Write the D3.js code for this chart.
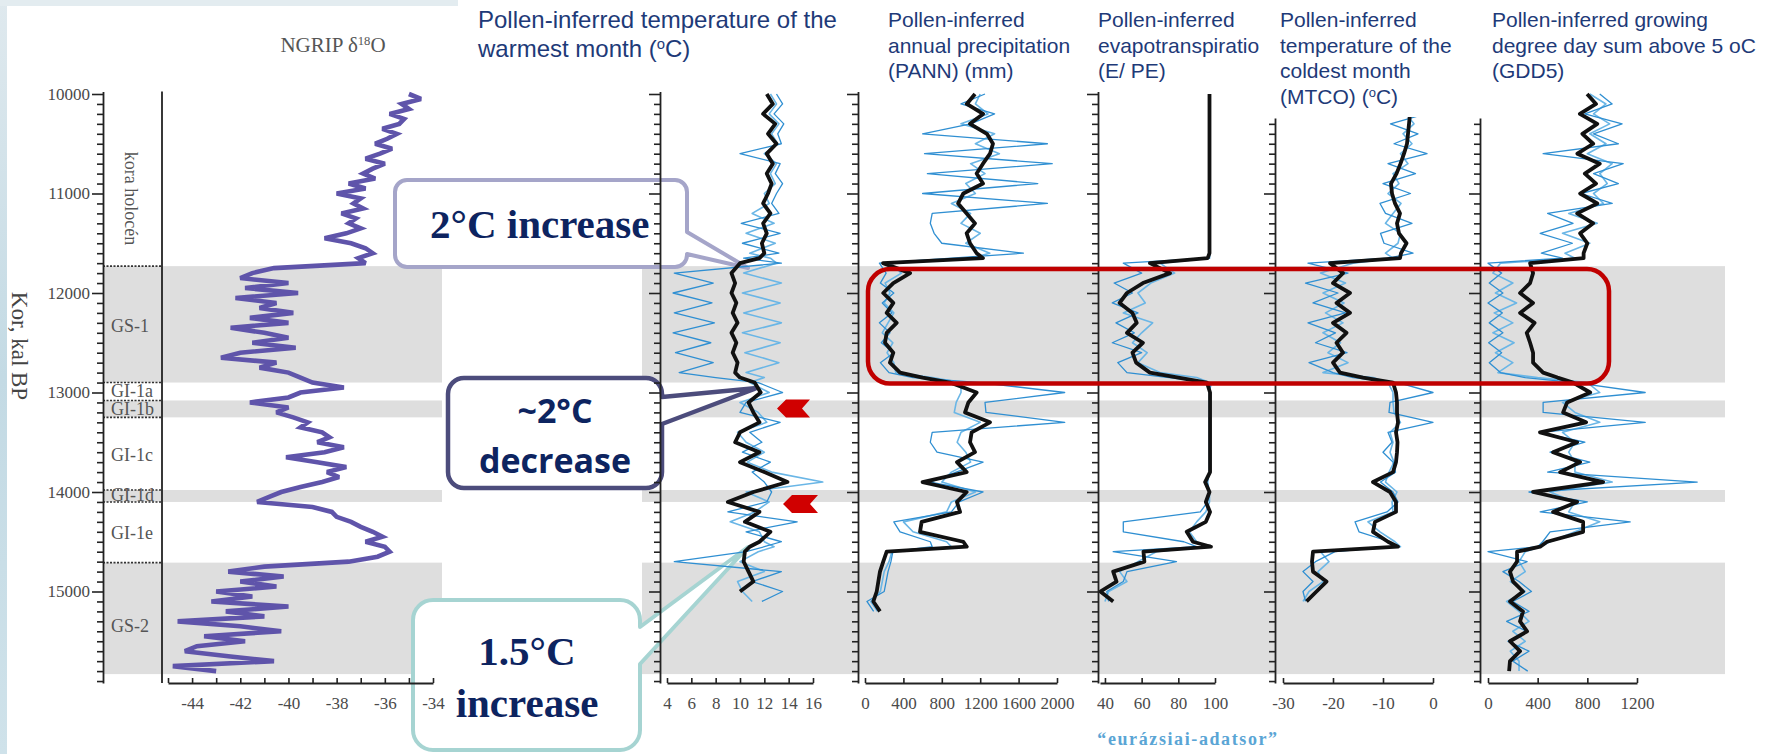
<!DOCTYPE html>
<html><head><meta charset="utf-8">
<script src="https://cdn.jsdelivr.net/npm/d3@7"></script>
<style>body{margin:0;background:#fff;}svg{display:block}</style>
</head><body>
<svg id="c" width="1779" height="754"></svg>
<script>
// ---------------- DATA ----------------
const ngripAge = d3.range(10000, 15801, 50);
const ngripD18O = [
-35.0,-34.5,-35.3,-35.0,-35.8,-35.2,-35.4,-36.1,-35.5,-35.9,
-36.4,-35.7,-36.2,-36.8,-36.0,-36.5,-36.9,-36.4,-37.5,-36.8,
-38.0,-37.0,-37.3,-36.9,-37.8,-37.2,-37.5,-37.0,-37.6,-38.5,
-37.4,-36.8,-36.5,-37.1,-36.8,-40.6,-41.5,-42.0,-40.0,-41.8,
-39.6,-42.2,-40.5,-41.2,-39.8,-41.6,-40.0,-42.4,-41.0,-40.0,
-41.5,-39.7,-42.0,-42.8,-40.5,-41.2,-40.0,-39.5,-39.0,-37.7,
-39.5,-40.0,-41.6,-40.0,-40.5,-39.8,-39.2,-39.5,-38.6,-38.3,
-38.8,-37.7,-38.5,-40.1,-38.8,-37.6,-38.4,-37.9,-38.6,-39.5,
-40.3,-40.8,-41.3,-39.0,-38.2,-38.0,-37.4,-37.0,-36.5,-36.1,
-36.8,-36.0,-35.8,-36.3,-37.5,-41.0,-42.5,-40.2,-42.0,-40.5,
-43.0,-41.5,-43.2,-40.0,-42.6,-41.0,-44.6,-42.0,-40.3,-43.5,
-41.8,-43.8,-44.3,-42.5,-40.6,-44.8,-43.0];

const pollenAge = [10000,10100,10200,10300,10400,10500,10600,10700,10800,10900,
11000,11100,11200,11300,11400,11500,11600,11650,11700,11800,
11900,12000,12100,12200,12300,12400,12500,12600,12700,12800,
12850,12900,13000,13100,13200,13300,13400,13500,13600,13700,
13800,13900,14000,14100,14200,14300,14400,14500,14550,14600,
14700,14800,14900,15000,15100,15200,15300,15400,15500,15600,
15700,15800];

const mtwaBlack = [12.2,12.7,11.9,12.9,12.3,13.0,12.2,12.7,12.2,12.6,
12.3,11.9,12.5,11.9,12.2,11.8,12.0,11.6,10.0,9.3,
9.6,9.3,9.7,9.4,9.8,9.3,9.7,9.4,9.8,9.6,
10.0,11.2,11.7,10.7,11.1,11.6,10.0,9.6,11.6,10.0,
12.0,13.9,11.1,9.0,11.6,10.4,12.5,11.6,10.8,10.4,
10.3,10.7,11.1,10.0,null,null,null,null,null,null,null,null];
const mtwaBlue1 = [13.0,13.5,12.8,13.6,13.1,13.4,10.0,13.3,12.9,13.5,
13.0,12.6,13.2,10.1,13.3,10.2,13.2,10.3,13.4,4.6,
7.8,4.5,7.7,4.6,7.9,4.5,7.6,4.7,7.8,5.0,
8.0,11.5,13.5,10.5,10.0,13.3,10.8,11.8,10.2,12.5,
11.0,12.0,12.6,12.2,9.0,14.7,10.5,13.4,12.0,10.5,
4.6,13.4,11.0,13.5,11.8,null,null,null,null,null,null,null];
const mtwaBlue2 = [12.5,13.0,12.4,13.2,12.6,13.1,12.0,13.0,12.5,12.9,
12.0,12.4,11.0,12.8,10.5,12.9,10.8,12.5,13.0,10.3,
13.4,10.2,13.3,10.3,13.4,10.2,13.3,10.4,13.2,10.5,
12.0,10.8,12.4,10.0,11.5,12.2,9.8,10.5,12.0,10.6,
12.6,16.8,10.5,12.4,11.2,9.2,11.6,12.0,12.8,11.5,
10.0,12.0,9.8,10.2,11.0,null,null,null,null,null,null,null];

const pannBlack = [1146,1060,1230,1094,1270,1333,1302,1229,1163,1229,
1024,970,1059,1146,1059,1094,1163,1229,188,470,
295,190,295,226,330,226,208,295,260,365,
600,885,1163,1077,1042,1302,1111,1094,1146,958,
1059,600,1059,958,990,590,573,1024,1060,226,
190,156,139,122,87,156,null,null,null,null,null,null];
const pannBlue1 = [1250,1000,1350,1100,600,1900,620,1950,650,1800,
600,1900,700,680,720,800,1650,900,150,220,
160,300,180,280,150,260,170,300,160,250,
500,1200,2080,1250,1260,2080,700,680,750,1230,
950,680,1230,980,900,300,365,680,700,290,
270,240,220,200,20,90,null,null,null,null,null,null];
const pannBlue2 = [1200,1150,1280,1000,1350,1150,1400,1100,1250,1050,
1150,900,1100,1000,1200,1050,1300,1100,250,380,
210,260,200,300,240,180,290,230,300,320,
700,1000,1000,950,930,1200,1000,960,1050,1100,
900,800,1150,900,850,400,500,850,900,280,
250,200,180,160,60,130,null,null,null,null,null,null];

const epeBlack = [97,97,97,97,97,97,97,97,97,97,
97,97,97,97,97,97,97,96,64.5,75.5,
60.7,52,48,55,57.3,52,60.7,55,57,64.5,
80,95.6,97.3,97.3,97.3,97.3,97.3,97.3,97.3,97.3,
97.3,94.6,97,95,97.3,95,84.6,88,97.8,61,
61.5,44.5,46.3,37.5,44.5,null,null,null,null,null,null,null];
const epeBlue1 = [97,97,97,97,97,97,97,97,97,97,
97,97,97,97,97,97,97,97,50,60,
45,55,44,58,46,56,44,60,47,52,
75,98,97,97,97,97,97,97,97,97,
97,96,97,96,92,50,50,83,90,44.5,
79,52,50,41,42,null,null,null,null,null,null,null];
const epeBlue2 = [97,97,97,97,97,97,97,97,97,97,
97,97,97,97,97,97,97,97,70,78,
65,58,62,50,66,60,55,63,58,70,
90,97,97,97,97,97,97,97,97,97,
97,95,97,97,95,90,86,90,95,68,
58,48,52,42,40,null,null,null,null,null,null,null];

const mtcoBlack = [-4.0,-4.3,-4.6,-4.8,-5.0,-5.2,-5.8,-6.5,-7.3,-8.4,
-8.2,-7.6,-6.6,-7.2,-6.8,-5.3,-6.4,-6.6,-20.6,-18.0,
-20.0,-16.6,-19.3,-16.6,-20.0,-17.3,-19.3,-18.0,-20.0,-18.6,
-14.0,-8.0,-7.4,-7.2,-7.2,-7.0,-7.4,-7.1,-7.2,-7.4,
-8.0,-12.0,-8.6,-7.4,-7.4,-11.6,-12.0,-9.0,-7.0,-24.0,
-24.2,-24.0,-21.3,-23.3,-25.3,null,null,null,null,null,null,null];
const mtcoBlue1 = [-2.0,-6.0,-1.5,-8.5,-3.0,-7.8,-1.2,-9.0,-3.5,-10.0,
-4.5,-10.6,-9.5,-4.2,-10.5,-9.8,-4.0,-9.0,-25.0,-17.0,
-25.5,-19.0,-24.0,-17.5,-25.0,-19.5,-23.5,-17.2,-24.8,-20.0,
-16.0,-7.0,0.0,-8.6,-8.8,0.0,-9.0,-8.2,-10.0,-8.0,
-7.5,-10.5,-8.0,-7.0,-9.2,-15.6,-14.8,-8.6,-8.0,-19.6,
-23.5,-26.0,-24.0,-26.0,-25.5,null,null,null,null,null,null,null];
const mtcoBlue2 = [-3.0,-3.6,-5.4,-3.8,-6.0,-4.2,-6.5,-5.0,-8.0,-6.8,
-9.0,-6.4,-8.0,-9.5,-6.5,-7.0,-9.5,-8.0,-16.0,-22.5,
-17.5,-22.0,-17.8,-21.5,-18.0,-22.0,-18.5,-21.0,-17.0,-22.0,
-12.0,-9.0,-8.0,-8.0,-7.8,-6.5,-8.6,-8.0,-8.6,-7.8,
-8.8,-9.5,-7.2,-8.2,-8.0,-13.0,-10.6,-7.6,-6.5,-22.5,
-20.8,-23.0,-22.0,-24.8,-26.0,null,null,null,null,null,null,null];

const gddBlack = [798,870,740,880,760,847,720,900,780,870,
742,880,718,847,742,800,770,770,339,363,
339,258,363,258,375,312,339,363,363,444,
560,685,823,637,605,790,419,718,524,742,
581,927,363,718,524,766,766,476,420,234,
234,177,202,282,177,282,258,315,177,258,
177,170];
const gddBlue1 = [900,1000,780,1080,850,1050,444,1089,850,1050,
750,1000,480,685,420,680,430,600,0,110,
10,120,0,115,10,120,5,110,10,100,
300,700,1266,444,444,1266,420,780,500,820,
480,1685,330,800,420,1145,500,440,400,0,
315,120,250,350,200,330,150,310,160,330,
200,320];
const gddBlue2 = [820,950,850,980,820,950,800,1000,900,960,
850,930,650,880,600,820,620,700,100,40,
200,60,230,50,200,40,210,60,200,80,
400,800,900,600,700,900,600,700,650,700,
700,1000,500,700,650,900,700,500,420,300,
250,300,180,300,150,250,330,200,300,180,
250,250];

// stadial / interstadial zones
const bandStart = [11730, 13080, 13980, 14710];
const bandEnd   = [12900, 13250, 14100, 15830];
const zoneBoundaries = [11730, 12900, 13080, 13250, 13980, 14100, 14710];
const zoneLabels = ["GS-1","GI-1a","GI-1b","GI-1c","GI-1d","GI-1e","GS-2"];
const zoneLabelAges = [12390, 13050, 13230, 13690, 14090, 14470, 15410];
const ageTicks = [10000,11000,12000,13000,14000,15000];
const ngripTicks = [-45,-44,-43,-42,-41,-40,-39,-38,-37,-36,-35,-34];
const mtwaTicks = [4,6,8,10,12,14,16];
const pannTicks = [0,400,800,1200,1600,2000];
const epeTicks = [40,60,80,100];
const mtcoTicks = [-30,-20,-10,0];
const gddTicks = [0,400,800,1200];
const markerAges = [13160, 14120];
const highlightAges = [11760, 12910];

// ---------------- DRAW ----------------
const svg = d3.select('#c');
const SERIF = '"Liberation Serif","Times New Roman",serif';
const SANS = '"Liberation Sans",Arial,sans-serif';
const yAge = d3.scaleLinear().domain([10000, 16000]).range([94, 691]);

svg.append('rect').attr('x',0).attr('y',0).attr('width',1779).attr('height',754).attr('fill','#fff');
const gradL = svg.append('defs').append('linearGradient').attr('id','gl').attr('x1',0).attr('y1',0).attr('x2',0).attr('y2',1);
gradL.append('stop').attr('offset','0').attr('stop-color','#dfe9ee');
gradL.append('stop').attr('offset','0.5').attr('stop-color','#c3dae4');
gradL.append('stop').attr('offset','1').attr('stop-color','#cfe2ea');
svg.append('rect').attr('x',0).attr('y',0).attr('width',7).attr('height',754).attr('fill','url(#gl)');
svg.append('rect').attr('x',0).attr('y',0).attr('width',458).attr('height',6).attr('fill','#e3ecf0');

// gray bands
const bandG = svg.append('g');
bandStart.forEach((a,i)=>{
  [[103,442],[642,1725]].forEach(([x0,x1])=>{
    bandG.append('rect').attr('x',x0).attr('width',x1-x0)
      .attr('y',yAge(a)).attr('height',yAge(bandEnd[i])-yAge(a)).attr('fill','#dedede');
  });
});

// callouts
function bubblePath(L,T,R,B,r,w){
  return `M${L+r},${T}H${R-r}A${r},${r} 0 0 1 ${R},${T+r}V${w.y1}L${w.tx},${w.ty}L${R},${w.y2}V${B-r}A${r},${r} 0 0 1 ${R-r},${B}H${L+r}A${r},${r} 0 0 1 ${L},${B-r}V${T+r}A${r},${r} 0 0 1 ${L+r},${T}Z`;
}
const cg = svg.append('g');
cg.append('path').attr('d',bubblePath(395,180,687,267,12,{y1:232,y2:254,tx:748,ty:268}))
  .attr('fill','#fff').attr('stroke','#a5a5c9').attr('stroke-width',4).attr('stroke-linejoin','round');
cg.append('path').attr('d',bubblePath(448,378,662,488,16,{y1:397,y2:424,tx:757,ty:388}))
  .attr('fill','#fff').attr('stroke','#4c4c7c').attr('stroke-width',4.5).attr('stroke-linejoin','round');
cg.append('path').attr('d',bubblePath(413,600,640,750,20,{y1:627,y2:664,tx:748,ty:547}))
  .attr('fill','#fff').attr('stroke','#a6d4d2').attr('stroke-width',4).attr('stroke-linejoin','round');
const NAVY = '#0d2460';
cg.append('text').attr('x',430).attr('y',238).attr('font-family',SERIF).attr('font-weight','bold')
  .attr('font-size',41).attr('fill',NAVY).text('2°C increase');
cg.append('text').attr('x',555).attr('y',423).attr('text-anchor','middle').attr('font-family','"Open Sans",sans-serif')
  .attr('font-weight','bold').attr('font-size',34).attr('fill',NAVY).text('~2°C');
cg.append('text').attr('x',555).attr('y',473).attr('text-anchor','middle').attr('font-family','"Open Sans",sans-serif')
  .attr('font-weight','bold').attr('font-size',34).attr('fill',NAVY).text('decrease');
cg.append('text').attr('x',527).attr('y',665).attr('text-anchor','middle').attr('font-family',SERIF).attr('font-weight','bold')
  .attr('font-size',41).attr('fill',NAVY).text('1.5°C');
cg.append('text').attr('x',527).attr('y',717).attr('text-anchor','middle').attr('font-family',SERIF).attr('font-weight','bold')
  .attr('font-size',41).attr('fill',NAVY).text('increase');

// zone column
const zg = svg.append('g');
zoneBoundaries.forEach(a=>{
  zg.append('line').attr('x1',103).attr('x2',162).attr('y1',yAge(a)).attr('y2',yAge(a))
    .attr('stroke','#333').attr('stroke-width',1.6).attr('stroke-dasharray','2,1.5');
});
zoneLabels.forEach((t,i)=>{
  zg.append('text').attr('x',111).attr('y',yAge(zoneLabelAges[i])).attr('font-family',SERIF)
    .attr('font-size',18).attr('fill','#555').text(t);
});
zg.append('text').attr('transform',`translate(125,${yAge(11050)}) rotate(90)`).attr('text-anchor','middle')
  .attr('font-family',SERIF).attr('font-size',18).attr('fill','#555').text('kora holocén');
svg.append('text').attr('transform',`translate(12,346) rotate(90)`).attr('text-anchor','middle')
  .attr('font-family',SERIF).attr('font-size',23).attr('fill','#444').text('Kor, kal BP');

// NGRIP
const xNgrip = d3.scaleLinear().domain([-45,-34]).range([168,433]);
svg.append('path').datum(ngripAge.map((a,i)=>[a,ngripD18O[i]]))
  .attr('d', d3.line().curve(d3.curveLinear).x(d=>xNgrip(d[1])).y(d=>yAge(d[0])))
  .attr('fill','none').attr('stroke','#5f54aa').attr('stroke-width',4.6).attr('stroke-linejoin','miter')
  .attr('stroke-miterlimit',3);

// pollen panels
const panels = [
  {x:d3.scaleLinear().domain([4,16]).range([667,813]), ax:660, ticks:mtwaTicks, top:9975, s:[mtwaBlue2,mtwaBlue1,mtwaBlack]},
  {x:d3.scaleLinear().domain([0,2000]).range([865,1057]), ax:858, ticks:pannTicks, top:9975, s:[pannBlue2,pannBlue1,pannBlack]},
  {x:d3.scaleLinear().domain([37.3,100]).range([1100,1215]), ax:1098, ticks:epeTicks, top:9975, s:[epeBlue2,epeBlue1,epeBlack]},
  {x:d3.scaleLinear().domain([-30,0]).range([1283,1433]), ax:1275, ticks:mtcoTicks, top:10240, s:[mtcoBlue2,mtcoBlue1,mtcoBlack]},
  {x:d3.scaleLinear().domain([0,1200]).range([1488,1637]), ax:1480, ticks:gddTicks, top:10240, s:[gddBlue2,gddBlue1,gddBlack]}
];
const styles = [
  {c:'#6ab6e6', w:1.6},
  {c:'#2f8fd2', w:1.3},
  {c:'#111', w:3.8}
];
panels.forEach(p=>{
  p.s.forEach((ser,k)=>{
    const line = d3.line().defined(d=>d[1]!=null).x(d=>p.x(d[1])).y(d=>yAge(d[0]));
    svg.append('path').datum(pollenAge.map((a,i)=>[a,ser[i]])).attr('d',line)
      .attr('fill','none').attr('stroke',styles[k].c).attr('stroke-width',styles[k].w)
      .attr('stroke-linejoin','round');
  });
});

// axes
function styleAxis(g){
  g.selectAll('path.domain').attr('stroke','#222').attr('stroke-width',1.8);
  g.selectAll('.tick line').attr('stroke','#222').attr('stroke-width',1.6);
  g.selectAll('.tick text').attr('font-family',SERIF).attr('font-size',17).attr('fill','#4a4a4a');
}
function yAxis(x, topAge, labels){
  const sc = yAge.copy().domain([topAge,15920]).range([yAge(topAge),yAge(15920)]);
  const minor = d3.range(10100,15901,100).filter(v=>v%1000!==0 && v>=topAge);
  const gm = svg.append('g').attr('transform',`translate(${x},0)`)
    .call(d3.axisLeft(sc).tickValues(minor).tickSizeInner(6).tickSizeOuter(0).tickFormat(''));
  styleAxis(gm);
  const g = svg.append('g').attr('transform',`translate(${x},0)`)
    .call(d3.axisLeft(sc).tickValues(ageTicks.filter(v=>v>=topAge)).tickSizeInner(11).tickSizeOuter(0)
      .tickPadding(2).tickFormat(labels? d=>String(d) : ''));
  styleAxis(g);
  g.select('path.domain').remove();
}
function xAxis(sc, ticks, fmt){
  const g = svg.append('g').attr('transform','translate(0,683)')
    .call(d3.axisBottom(sc).tickValues(ticks).tickSizeInner(-5).tickSizeOuter(0).tickPadding(14)
      .tickFormat(fmt || (d=>String(d))));
  styleAxis(g);
}
yAxis(103, 9975, true);
svg.append('line').attr('x1',162).attr('x2',162).attr('y1',yAge(9975)).attr('y2',yAge(15920))
  .attr('stroke','#222').attr('stroke-width',1.8);
xAxis(xNgrip, ngripTicks, d=> d%2===0 ? String(d) : '');
panels.forEach(p=>{ yAxis(p.ax, p.top, false); xAxis(p.x, p.ticks); });

// white cover behind MTCO title
svg.append('rect').attr('x',1262).attr('y',0).attr('width',224).attr('height',117).attr('fill','#fff');

// titles
const TITLE = '#1e3a78';
function title(x, y0, dy, size, lines){
  const t = svg.append('text').attr('font-family',SANS).attr('font-size',size).attr('fill',TITLE);
  lines.forEach((ln,i)=>{
    const row = t.append('tspan').attr('x',x).attr('y',y0+i*dy);
    ln.forEach(part=>{
      if (typeof part === 'string') row.append('tspan').text(part);
      else row.append('tspan').attr('baseline-shift','super').attr('font-size','62%').text(part.sup);
    });
  });
}
title(478, 28, 29, 24, [["Pollen-inferred temperature of the"],["warmest month (",{sup:"o"},"C)"]]);
title(888, 27, 25.5, 21, [["Pollen-inferred"],["annual precipitation"],["(PANN) (mm)"]]);
title(1098, 27, 25.5, 21, [["Pollen-inferred"],["evapotranspiratio"],["(E/ PE)"]]);
title(1280, 27, 25.5, 21, [["Pollen-inferred"],["temperature of the"],["coldest month"],["(MTCO) (",{sup:"o"},"C)"]]);
title(1492, 27, 25.5, 21, [["Pollen-inferred growing"],["degree day sum above 5 oC"],["(GDD5)"]]);

const nt = svg.append('text').attr('x',333).attr('y',52).attr('text-anchor','middle')
  .attr('font-family',SERIF).attr('font-size',21).attr('fill','#555');
nt.append('tspan').text('NGRIP δ');
nt.append('tspan').attr('baseline-shift','super').attr('font-size','60%').text('18');
nt.append('tspan').text('O');

// red highlight box
svg.append('rect').attr('x',868).attr('y',yAge(highlightAges[0]))
  .attr('width',1609-868).attr('height',yAge(highlightAges[1])-yAge(highlightAges[0]))
  .attr('rx',22).attr('fill','none').attr('stroke','#c00000').attr('stroke-width',4.5);

// red pennant markers
const mx = [[777,810],[783,818]];
markerAges.forEach((a,i)=>{
  const [x0,x1] = mx[i], yc = yAge(a), h = 9;
  svg.append('path').attr('d',`M${x0},${yc}L${x0+9},${yc-h}H${x1}L${x1-8},${yc}L${x1},${yc+h}H${x0+9}Z`)
    .attr('fill','#d00000');
});

svg.append('text').attr('x',1188).attr('y',745).attr('text-anchor','middle').attr('font-family',SERIF)
  .attr('font-weight','bold').attr('font-size',18).attr('letter-spacing',1.6).attr('fill','#5aa5d5')
  .text('\u201Ceurázsiai-adatsor\u201D');
</script>
</body></html>
